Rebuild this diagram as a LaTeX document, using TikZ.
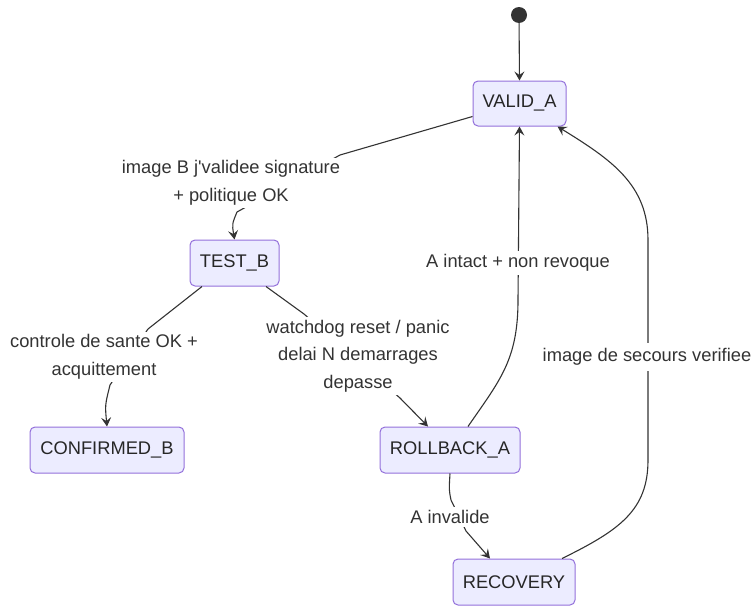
\documentclass[tikz,border=0pt]{standalone}
\usepackage{fontspec}
\setmainfont{Liberation Sans}[Ligatures=TeXOff]
\usetikzlibrary{arrows.meta}
\definecolor{nodefill}{HTML}{ECECFF}
\definecolor{nodeline}{HTML}{9370DB}
\definecolor{ink}{HTML}{333333}
\begin{document}
\begin{tikzpicture}[x=1pt,y=-1pt,
  state/.style={draw=nodeline, fill=nodefill, rounded corners=5pt, line width=1pt,
    font=\fontsize{18.3}{22}\selectfont, text=black!85, inner sep=0pt},
  lbl/.style={fill=white, inner xsep=2pt, inner ysep=3pt, align=center,
    font=\fontsize{18.3}{27.5}\selectfont, text=ink},
  edge/.style={draw=ink, line width=1.1pt},
  arr/.style={edge, -{Stealth[length=9pt,width=10pt,inset=3.5pt]}}]
\useasboundingbox (0,0) rectangle (753,608);
% nodes
\node[circle, fill=ink, minimum size=16pt, inner sep=0pt] (start) at (519,15) {};
\node[state, minimum width=93pt, minimum height=45pt] (va) at (519.5,103.5) {VALID\_A};
\node[state, minimum width=89pt, minimum height=46pt] (tb) at (234.5,263) {TEST\_B};
\node[state, minimum width=154pt, minimum height=46pt] (cb) at (107,450) {CONFIRMED\_B};
\node[state, minimum width=140pt, minimum height=46pt] (rb) at (450,450) {ROLLBACK\_A};
\node[state, minimum width=122pt, minimum height=46pt] (rec) at (514,582) {RECOVERY};
% edges
\draw[arr] (start) -- (va.north);
\draw[arr] ([yshift=-13pt]va.west) -- (340,155) -- (237,212)
  .. controls (232,224) .. (tb.north);
\draw[arr] ([xshift=-32.5pt]tb.south) -- (148,329) -- (110,385)
  .. controls (105,405) .. (cb.north);
\draw[arr] ([xshift=31.5pt]tb.south) -- (304,314) -- (400,398) -- ([xshift=-22pt]rb.north);
\draw[arr] ([xshift=18pt]rb.north) .. controls (500,380) and (518,360) .. (518,300)
  -- (va.south);
\draw[arr] ([xshift=48pt]rec.north) .. controls (620,530) and (648,510) .. (648,460)
  -- (648,240) .. controls (648,185) and (612,160) .. ([xshift=-9pt]va.south east);
\draw[arr] (rb.south) .. controls (449,490) .. (451,500) -- (466,531)
  -- ([xshift=-24pt]rec.north);
% labels
\node[lbl] (l1) at (231,183) {image B j'validee signature\\+ politique OK};
\node[lbl] (l2) at (104,357) {controle de sante OK +\\acquittement};
\node[lbl] (l3) at (358,356) {watchdog reset / panic\\delai N demarrages\\depasse};
\node[lbl] (l4) at (518,263) {A intact + non revoque};
\node[lbl, inner ysep=5pt] (l5) at (647,357) {image de secours verifiee};
\node[lbl] (l6) at (450,517) {A invalide};
\end{tikzpicture}
\end{document}
